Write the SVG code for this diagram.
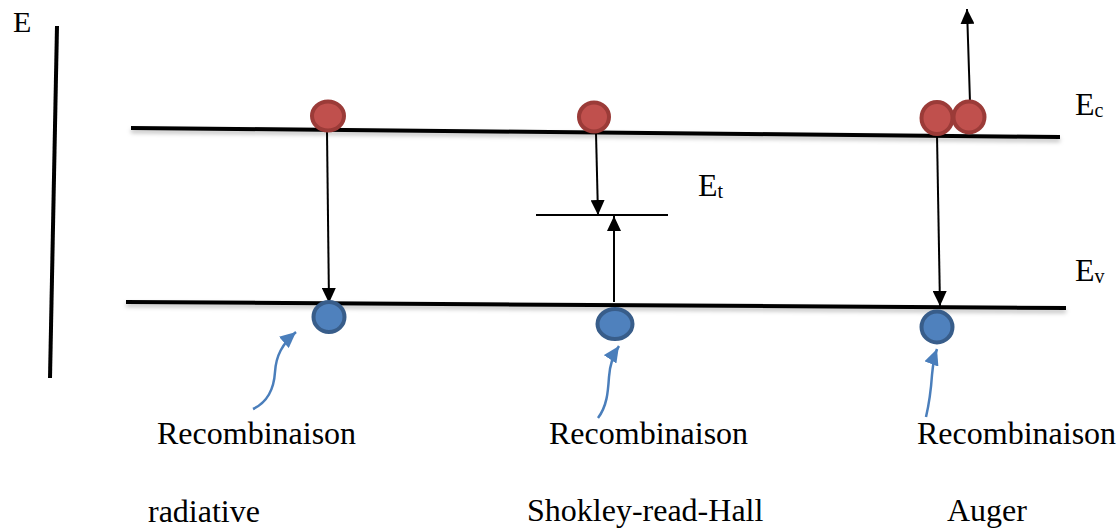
<svg xmlns="http://www.w3.org/2000/svg" width="1120" height="531" viewBox="0 0 1120 531">
<style>
text{font-family:"Liberation Serif","Times New Roman",serif;fill:#000;}
.lbl{font-size:32px;}
.sub{font-size:20px;}
.band{stroke:#000;stroke-width:4;fill:none;}
.conn{stroke:#000;stroke-width:2;fill:none;}
.blue{stroke:#4a7ebb;stroke-width:2.5;fill:none;}
.e{fill:#c0504d;stroke:#9b3b38;stroke-width:4;}
.h{fill:#4f81bd;stroke:#385d8a;stroke-width:4;}
</style>
<defs>
<marker id="ah" markerWidth="15" markerHeight="14" refX="15" refY="7" orient="auto" markerUnits="userSpaceOnUse" viewBox="0 0 15 14">
<path d="M0,0 L15,7 L0,14 Z" fill="#000"/>
</marker>
<marker id="bh" markerWidth="16" markerHeight="15" refX="16" refY="7.5" orient="auto" markerUnits="userSpaceOnUse" viewBox="0 0 16 15">
<path d="M0,0 L16,7.5 L0,15 Z" fill="#4a7ebb"/>
</marker>
<filter id="sh" x="-5%" y="-200%" width="110%" height="500%">
<feDropShadow dx="0" dy="3" stdDeviation="2" flood-color="#000" flood-opacity="0.25"/>
</filter>
</defs>
<g id="axis">
<line x1="57" y1="26" x2="50" y2="378" class="band"/>
<text class="lbl" x="13" y="32" style="font-size:30px">E</text>
</g>
<g id="band-ec">
<line x1="131" y1="128" x2="1060" y2="137" class="band" filter="url(#sh)"/>
<text class="lbl" x="1075" y="115">E<tspan class="sub" dy="2">c</tspan></text>
</g>
<g id="band-ev">
<line x1="126" y1="302" x2="1066" y2="308" class="band" filter="url(#sh)"/>
<text class="lbl" x="1075" y="281">E<tspan class="sub" dy="2">v</tspan></text>
</g>
<g id="trap-et">
<line x1="536" y1="215" x2="668" y2="215" class="conn"/>
<text class="lbl" x="698" y="196">E<tspan class="sub" dy="2">t</tspan></text>
</g>
<g id="connectors">
<line x1="327" y1="132" x2="329" y2="303" class="conn" marker-end="url(#ah)"/>
<line x1="596" y1="133" x2="598" y2="215" class="conn" marker-end="url(#ah)"/>
<line x1="614" y1="302" x2="614" y2="216" class="conn" marker-end="url(#ah)"/>
<line x1="937" y1="135" x2="940" y2="306" class="conn" marker-end="url(#ah)"/>
<line x1="970" y1="102" x2="967" y2="9" class="conn" marker-end="url(#ah)"/>
<path d="M253,409 C268,402 274,388 275,372 C276,356 282,344 296,332" class="blue" marker-end="url(#bh)"/>
<path d="M598,418 C607,406 608,392 609,377 C610,363 613,355 619,346" class="blue" marker-end="url(#bh)"/>
<path d="M926,417 C929,404 931,390 932,375 C933,364 934,357 937,349" class="blue" marker-end="url(#bh)"/>
</g>
<g id="electron-rad"><ellipse cx="328" cy="116" rx="16" ry="14.5" class="e"/></g>
<g id="electron-srh"><ellipse cx="594" cy="117" rx="15" ry="14.5" class="e"/></g>
<g id="electron-auger1"><ellipse cx="937" cy="118" rx="15.5" ry="16" class="e"/></g>
<g id="electron-auger2"><ellipse cx="969" cy="117" rx="15.5" ry="15.5" class="e"/></g>
<g id="hole-rad"><ellipse cx="329" cy="317" rx="15.5" ry="15" class="h"/></g>
<g id="hole-srh"><ellipse cx="615" cy="324" rx="17.5" ry="15" class="h"/></g>
<g id="hole-auger"><ellipse cx="937" cy="327" rx="15.5" ry="15.5" class="h"/></g>
<g id="label-rad">
<text class="lbl" x="157" y="444">Recombinaison</text>
<text class="lbl" x="148" y="522">radiative</text>
</g>
<g id="label-srh">
<text class="lbl" x="549" y="444">Recombinaison</text>
<text class="lbl" x="527" y="521">Shokley-read-Hall</text>
</g>
<g id="label-auger">
<text class="lbl" x="917" y="444">Recombinaison</text>
<text class="lbl" x="947" y="521">Auger</text>
</g>
</svg>
